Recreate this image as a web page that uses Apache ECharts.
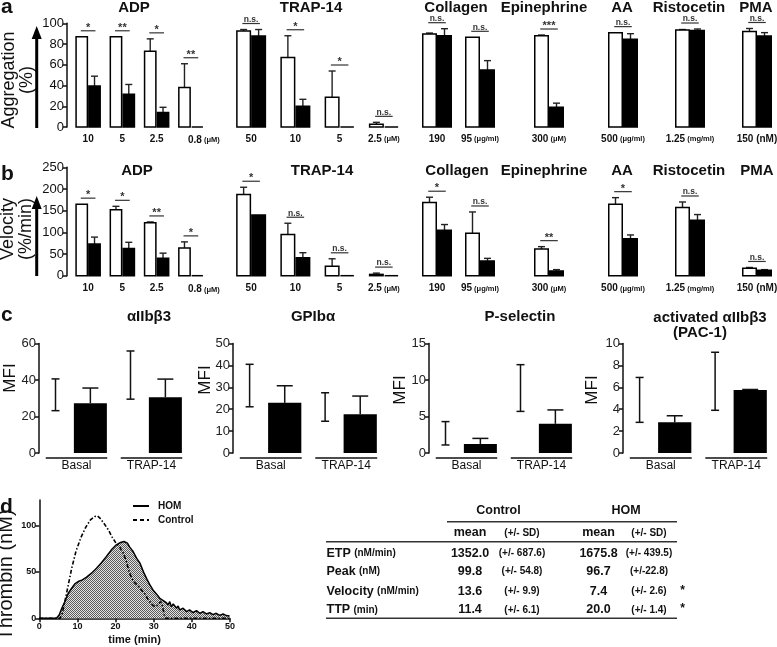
<!DOCTYPE html>
<html><head><meta charset="utf-8">
<script src="https://cdn.jsdelivr.net/npm/echarts@6/dist/echarts.min.js"></script>
<style>html,body{margin:0;padding:0;background:#fff}#c{width:777px;height:647px}</style>
</head><body><div id="c"></div>
<script>
// ---------------- DATA ----------------
// Panels a & b: agonist groups
const groupTitles = ['ADP', 'TRAP-14', 'Collagen', 'Epinephrine', 'AA', 'Ristocetin', 'PMA'];
const doses = [['10', '5', '2.5', '0.8'], ['50', '10', '5', '2.5'], ['190', '95'], ['300'], ['500'], ['1.25'], ['150']];
const doseUnits = ['(μM)', '(μM)', '(μg/ml)', '(μM)', '(μg/ml)', '(mg/ml)', '(nM)'];

// a: Aggregation (%)
const aggTicks = [0, 20, 40, 60, 80, 100];
const aggControl = [[87, 87, 73, 38], [92.5, 67, 28.6, 2.6], [89.7, 86.5], [88], [91], [93.5], [92]];
const aggControlSD = [[0, 0, 12, 23], [1.5, 21, 25.4, 1.9], [0.9, 0], [0.7], [0], [0.5], [3]];
const aggHom = [[39.5, 31.5, 14, 0], [87.7, 20, 0, 0], [88, 55], [19], [84.5], [93], [87.7]];
const aggHomSD = [[9.5, 9.5, 5, 0], [6.3, 6.7, 0, 0], [6.8, 9], [4], [5.5], [1.5], [3.3]];
const aggSig = [['*', '**', '*', '**'], ['n.s.', '*', '*', 'n.s.'], ['n.s.', 'n.s.'], ['***'], ['n.s.'], ['n.s.'], ['n.s.']];

// b: Velocity (%/min)
const velTicks = [0, 50, 100, 150, 200, 250];
const velControl = [[165, 152, 122, 64], [187.5, 95, 22, 3], [169, 98], [61.5], [165], [157], [17]];
const velControlSD = [[0, 8, 2, 14], [16.5, 26, 17, 3], [12, 49], [5.5], [15], [13], [2]];
const velHom = [[73, 63, 40, 0], [140, 41.5, 0, 0], [105, 34], [11], [85], [128], [12.5]];
const velHomSD = [[16, 14, 12, 0], [0, 11.5, 0, 0], [13, 6], [3], [9], [13], [1.5]];
const velSig = [['*', '*', '**', '*'], ['*', 'n.s.', 'n.s.', 'n.s.'], ['*', 'n.s.'], ['**'], ['*'], ['n.s.'], ['n.s.']];

// c: MFI
const mfiTitles = ['αIIbβ3', 'GPIbα', 'P-selectin', 'activated αIIbβ3', '(PAC-1)'];
const mfiCats = ['Basal', 'TRAP-14'];
const mfiTicks = [[0, 20, 40, 60], [0, 10, 20, 30, 40, 50], [0, 5, 10, 15], [0, 2, 4, 6, 8, 10]];
const mfiControl = [[31.9, 42.7], [30.8, 21], [2.7, 8.9], [4.85, 6.55]];
const mfiControlSD = [[8.7, 13.2], [9.7, 6.5], [1.6, 3.2], [2.05, 2.65]];
const mfiHom = [[27.3, 30.6], [22.9, 17.7], [1.24, 4.0], [2.8, 5.75]];
const mfiHomSD = [[8.3, 9.9], [7.8, 8.3], [0.76, 1.9], [0.6, 0.05]];

// d: thrombin generation
const thrombinSeries = ['HOM', 'Control'];
const thrombinXTicks = [0, 10, 20, 30, 40, 50];
const thrombinYTicks = [0, 50, 100];
const homTime = [0, 4.5, 5.2, 5.9, 6.7, 7.6, 8.5, 9.3, 10.2, 11.3, 12.4, 13.7, 15, 16.3, 17.6, 18.9, 20.2, 21.3, 22.2, 22.7, 23.1, 23.7, 24.6, 25.5, 26.4, 27.1, 27.4, 27.9, 28.3, 29, 29.8, 30.7, 31.6, 32.5, 33.3, 33.8, 34.2, 34.6, 35.1, 36, 36.4, 36.8, 37.7, 38.6, 39.4, 40.3, 41.2, 42.1, 42.9, 43.8, 44.7, 45.5, 46.4, 47.3, 48.2, 49, 49.9];
const homThrombin = [0, 0, 3.6, 10.8, 18, 27, 32.4, 37, 39.6, 41.4, 44.3, 48.6, 54, 60, 66.6, 73.8, 79.2, 81.7, 82.8, 83.9, 81, 76.7, 72, 64.8, 59.4, 52.2, 49.3, 47.9, 41.4, 36, 30.6, 26.3, 21.6, 19.1, 16.9, 14.4, 18, 12.6, 15.5, 10.8, 13.3, 9, 10.8, 7.2, 9, 6.1, 8.3, 5.4, 7.2, 4.7, 6.1, 4, 5.4, 3.2, 4.7, 2.9, 2.5];
const controlTime = [0, 5.4, 6, 6.7, 7.6, 8.5, 9.6, 10.9, 12.2, 13.4, 14.6, 15.2, 15.9, 16.9, 18.1, 19.1, 20.1, 21.1, 22, 22.7, 23.4, 24.2, 25, 25.9, 26.8, 27.7, 28.5, 29.4, 30.3, 31.2, 31.8, 32.3, 32.8, 33.2, 50];
const controlThrombin = [0, 0, 5.4, 18, 36, 54, 72, 87, 98.3, 106, 109.8, 110.5, 108, 102.6, 95.4, 87.5, 81, 76.7, 70.2, 63, 52.2, 43.2, 38.5, 34.9, 30.6, 26.3, 20.5, 15.5, 12.6, 14.4, 18, 12.6, 3.6, 0, 0];

// d: table
const tableRows = ['ETP', 'Peak', 'Velocity', 'TTP'];
const tableUnits = ['(nM/min)', '(nM)', '(nM/min)', '(min)'];
const controlMean = ['1352.0', '99.8', '13.6', '11.4'];
const controlSDText = ['(+/- 687.6)', '(+/- 54.8)', '(+/- 9.9)', '(+/- 6.1)'];
const homMean = ['1675.8', '96.7', '7.4', '20.0'];
const homSDText = ['(+/- 439.5)', '(+/-22.8)', '(+/- 2.6)', '(+/- 1.4)'];
const tableSig = ['', '', '*', '*'];

// ---------------- LAYOUT / STYLE ----------------
const FONT = '"Liberation Sans", Arial, sans-serif';
const INK = '#111';
const groupLeft = [71, 229, 415.5, 527, 601, 668, 735];
const groupWidth = [137, 177, 86, 44, 44, 44, 44];
const titleXa = [134, 311, 456, 544, 622, 689, 756];
const titleXb = [137, 322, 457, 544, 622, 689, 757];

const grids = [], xAxes = [], yAxes = [], series = [], graphics = [];

function txt(text, x, y, size, weight, align, vAlign, rot, extra) {
  graphics.push({
    type: 'text', x: x, y: y, rotation: rot || 0, silent: true,
    style: Object.assign({
      text: text, fontSize: size, fontWeight: weight || 'normal', fontFamily: FONT,
      fill: INK, align: align || 'center', verticalAlign: vAlign || 'middle'
    }, extra || {})
  });
}
function gline(x1, y1, x2, y2, w, color, dash) {
  const st = { stroke: color || '#222', lineWidth: w || 1.5 };
  if (dash) st.lineDash = dash;
  graphics.push({ type: 'line', silent: true, shape: { x1, y1, x2, y2 }, style: st });
}

function barShape(x, y, w, y0, fill) {
  if (y0 - y < 1) {
    return { type: 'line', shape: { x1: x, y1: y0, x2: x + w, y2: y0 }, style: { stroke: '#000', lineWidth: 1.5 } };
  }
  return { type: 'rect', shape: { x: x, y: y, width: w, height: y0 - y }, style: { fill: fill, stroke: '#000', lineWidth: 1.5 } };
}
function errUp(x, y1, y2, cap) {
  return [
    { type: 'line', shape: { x1: x, y1: y1, x2: x, y2: y2 }, style: { stroke: '#222', lineWidth: 1.4 } },
    { type: 'line', shape: { x1: x - cap, y1: y2, x2: x + cap, y2: y2 }, style: { stroke: '#222', lineWidth: 1.4 } }
  ];
}

function pairRenderer(sigList) {
  return function (params, api) {
    const i = api.value(0);
    const c = api.value(1), cs = api.value(2), h = api.value(3), hs = api.value(4);
    const p0 = api.coord([i, 0]);
    const cx = p0[0], y0 = p0[1];
    const band = api.size([1, 0])[0];
    const bw = Math.min(band * 0.33, 13.5), gap = 1.5;
    const yc = api.coord([i, c])[1], ycs = api.coord([i, c + cs])[1];
    const yh = api.coord([i, h])[1], yhs = api.coord([i, h + hs])[1];
    const wx = cx - gap / 2 - bw, bx = cx + gap / 2;
    const kids = [];
    if (cs > 0) kids.push.apply(kids, errUp(wx + bw / 2, yc, ycs, 3.5));
    if (hs > 0) kids.push.apply(kids, errUp(bx + bw / 2, yh, yhs, 3.5));
    kids.push(barShape(wx, yc, bw, y0, '#fff'));
    kids.push(barShape(bx, yh, bw, y0, '#000'));
    const top = Math.min(yc, ycs, yh, yhs);
    const ly = top - 6, half = bw * 0.65;
    kids.push({ type: 'line', shape: { x1: cx - half, y1: ly, x2: cx + half, y2: ly }, style: { stroke: '#333', lineWidth: 1.2 } });
    const s = sigList[params.dataIndex];
    const ns = s === 'n.s.';
    kids.push({
      type: 'text', x: cx, y: ns ? ly + 0.5 : ly - 3,
      style: { text: s, fontSize: ns ? 8.5 : 11, fontWeight: 'bold', fontFamily: FONT, fill: '#333', align: 'center', verticalAlign: ns ? 'bottom' : 'middle' }
    });
    return { type: 'group', children: kids };
  };
}

function addBarPanel(top, height, ticks, ctrl, ctrlSD, hom, homSD, sig, labelMargin) {
  for (let g = 0; g < groupTitles.length; g++) {
    const gi = grids.length;
    grids.push({ left: groupLeft[g], top: top, width: groupWidth[g], height: height, outerBoundsMode: 'none' });
    const last = doses[g].length - 1;
    const unit = doseUnits[g];
    const padFirst = g === 0;
    xAxes.push({
      gridIndex: gi, type: 'category', data: doses[g],
      axisLine: { show: false }, axisTick: { show: false }, splitLine: { show: false },
      axisLabel: {
        interval: 0, margin: labelMargin, color: INK,
        formatter: function (v, idx) {
          if (idx !== last) return '{n|' + v + '}';
          const uStyle = unit === '(nM)' ? 'u2' : 'u';
          return (padFirst ? '{sp|}' : '') + '{n|' + v + '}{' + uStyle + '| ' + unit + '}';
        },
        rich: {
          n: { fontSize: 10, fontWeight: 'bold', fontFamily: FONT, color: INK },
          u: { fontSize: 7.5, fontWeight: 'bold', fontFamily: FONT, color: INK },
          u2: { fontSize: 10, fontWeight: 'bold', fontFamily: FONT, color: INK },
          sp: { width: 26 }
        }
      }
    });
    yAxes.push({
      gridIndex: gi, type: 'value', min: ticks[0], max: ticks[ticks.length - 1], interval: ticks[1] - ticks[0],
      show: g === 0, offset: 4,
      axisLine: { show: true, lineStyle: { color: INK, width: 1.5 } },
      axisTick: { show: true, length: 4, lineStyle: { color: INK, width: 1.5 } },
      axisLabel: { fontSize: 13, color: INK, margin: 3, fontFamily: FONT },
      splitLine: { show: false }
    });
    series.push({
      type: 'custom', xAxisIndex: gi, yAxisIndex: gi, clip: false, silent: true,
      data: ctrl[g].map((v, i) => [i, v, ctrlSD[g][i], hom[g][i], homSD[g][i]]),
      encode: { x: 0, y: [1, 3] },
      renderItem: pairRenderer(sig[g])
    });
  }
}

addBarPanel(23.3, 103.7, aggTicks, aggControl, aggControlSD, aggHom, aggHomSD, aggSig, 7);
addBarPanel(167.3, 108.4, velTicks, velControl, velControlSD, velHom, velHomSD, velSig, 8);

// ---- panel c ----
const cLeft = [39, 233, 429, 623];
const cWidth = [150, 151, 150, 151];
function mfiRenderer(params, api) {
  const i = api.value(0);
  const c = api.value(1), cs = api.value(2), h = api.value(3), hs = api.value(4);
  const p0 = api.coord([i, 0]);
  const cx = p0[0], y0 = p0[1];
  const band = api.size([1, 0])[0];
  const kids = [];
  const ix = cx - band * 0.28;
  const yl = api.coord([i, c - cs])[1], yu = api.coord([i, c + cs])[1];
  const st = { stroke: '#111', lineWidth: 1.5 };
  kids.push({ type: 'line', shape: { x1: ix, y1: yl, x2: ix, y2: yu }, style: st });
  kids.push({ type: 'line', shape: { x1: ix - 4, y1: yl, x2: ix + 4, y2: yl }, style: st });
  kids.push({ type: 'line', shape: { x1: ix - 4, y1: yu, x2: ix + 4, y2: yu }, style: st });
  const bw = band * 0.44, bx = cx - band * 0.035;
  const yh = api.coord([i, h])[1], yhs = api.coord([i, h + hs])[1];
  kids.push({ type: 'line', shape: { x1: bx + bw / 2, y1: yh, x2: bx + bw / 2, y2: yhs }, style: st });
  kids.push({ type: 'line', shape: { x1: bx + bw / 2 - 8, y1: yhs, x2: bx + bw / 2 + 8, y2: yhs }, style: st });
  kids.push({ type: 'rect', shape: { x: bx, y: yh, width: bw, height: y0 - yh }, style: { fill: '#000' } });
  kids.push({ type: 'line', shape: { x1: cx - band * 0.41, y1: y0 + 5, x2: cx + band * 0.41, y2: y0 + 5 }, style: st });
  return { type: 'group', children: kids };
}
for (let k = 0; k < 4; k++) {
  const gi = grids.length;
  const t = mfiTicks[k];
  grids.push({ left: cLeft[k], top: 343.5, width: cWidth[k], height: 109.5, outerBoundsMode: 'none' });
  xAxes.push({
    gridIndex: gi, type: 'category', data: mfiCats,
    axisLine: { show: false }, axisTick: { show: false },
    axisLabel: { interval: 0, margin: 7, fontSize: 12, color: INK, fontFamily: FONT }
  });
  yAxes.push({
    gridIndex: gi, type: 'value', min: t[0], max: t[t.length - 1], interval: t[1] - t[0],
    axisLine: { show: true, lineStyle: { color: INK, width: 1.5 } },
    axisTick: { show: true, length: 4, lineStyle: { color: INK, width: 1.5 } },
    axisLabel: { fontSize: 13, color: '#222', margin: 3, fontFamily: FONT },
    splitLine: { show: false }
  });
  series.push({
    type: 'custom', xAxisIndex: gi, yAxisIndex: gi, clip: false, silent: true,
    data: mfiControl[k].map((v, i) => [i, v, mfiControlSD[k][i], mfiHom[k][i], mfiHomSD[k][i]]),
    encode: { x: 0, y: [1, 3] },
    renderItem: mfiRenderer
  });
}

// ---- panel d chart ----
const pc = document.createElement('canvas');
pc.width = 2; pc.height = 2;
const pctx = pc.getContext('2d');
pctx.fillStyle = '#e2e2e2'; pctx.fillRect(0, 0, 2, 2);
pctx.fillStyle = '#5a5a5a'; pctx.fillRect(0, 0, 1, 1); pctx.fillRect(1, 1, 1, 1);
const controlDash = [4, 2, 1.5, 2];
{
  const gi = grids.length;
  grids.push({ left: 39.3, top: 500, width: 190.7, height: 118.3, outerBoundsMode: 'none' });
  xAxes.push({
    gridIndex: gi, type: 'value', min: 0, max: 50, interval: 10,
    name: 'time (min)', nameLocation: 'middle', nameGap: 16,
    nameTextStyle: { fontSize: 11, fontWeight: 'bold', color: INK, fontFamily: FONT },
    axisLine: { show: true, onZero: false, lineStyle: { color: INK, width: 1.5 } },
    axisTick: { show: true, length: 4, lineStyle: { color: INK, width: 1.5 }, customValues: thrombinXTicks },
    axisLabel: { fontSize: 9, fontWeight: 'bold', color: INK, margin: 4, fontFamily: FONT, customValues: thrombinXTicks },
    splitLine: { show: false }
  });
  yAxes.push({
    gridIndex: gi, type: 'value', min: 0, max: 127.5,
    axisLine: { show: true, lineStyle: { color: INK, width: 1.5 } },
    axisTick: { show: true, length: 4, lineStyle: { color: INK, width: 1.5 }, customValues: thrombinYTicks },
    axisLabel: { fontSize: 9, fontWeight: 'bold', color: INK, margin: 3, fontFamily: FONT, customValues: thrombinYTicks },
    splitLine: { show: false }
  });
  series.push({
    type: 'line', name: thrombinSeries[0], xAxisIndex: gi, yAxisIndex: gi, symbol: 'none', silent: true,
    data: homTime.map((t, i) => [t, homThrombin[i]]),
    lineStyle: { color: '#000', width: 1.5 },
    itemStyle: { color: '#000' },
    areaStyle: { color: { image: pc, repeat: 'repeat' }, opacity: 1 },
    z: 2
  });
  series.push({
    type: 'line', name: thrombinSeries[1], xAxisIndex: gi, yAxisIndex: gi, symbol: 'none', silent: true,
    data: controlTime.map((t, i) => [t, controlThrombin[i]]),
    lineStyle: { color: '#000', width: 1.6, type: controlDash },
    itemStyle: { color: '#000' },
    z: 3
  });
}
// legend (drawn by hand to match line keys)
gline(133, 506, 149, 506, 2, '#000');
txt(thrombinSeries[0], 158, 506, 10, 'bold', 'left');
gline(133, 520, 149, 520, 2, '#000', [4, 3]);
txt(thrombinSeries[1], 158, 520, 10, 'bold', 'left');

// ---- texts ----
txt('a', 1, 7, 21, 'bold', 'left');
txt('b', 1, 174, 21, 'bold', 'left');
txt('c', 1, 315, 21, 'bold', 'left');
txt('d', 0, 507, 21, 'bold', 'left');
for (let g = 0; g < groupTitles.length; g++) {
  txt(groupTitles[g], titleXa[g], 8, 15, 'bold');
  txt(groupTitles[g], titleXb[g], 171, 15, 'bold');
}
txt('Aggregation\n(%)', 18, 80, 18, 'normal', 'center', 'middle', Math.PI / 2, { lineHeight: 18 });
txt('Velocity\n(%/min)', 17, 229, 18, 'normal', 'center', 'middle', Math.PI / 2, { lineHeight: 18 });
// arrows
gline(36.7, 128, 36.7, 36, 3, '#000');
graphics.push({ type: 'polygon', silent: true, shape: { points: [[31.7, 39], [41.7, 39], [36.7, 26]] }, style: { fill: '#000' } });
gline(36.7, 276, 36.7, 206, 3, '#000');
graphics.push({ type: 'polygon', silent: true, shape: { points: [[31.7, 209], [41.7, 209], [36.7, 196]] }, style: { fill: '#000' } });

// panel c titles
txt(mfiTitles[0], 149, 317, 15, 'bold');
txt(mfiTitles[1], 313, 317, 15, 'bold');
txt(mfiTitles[2], 520, 317, 15, 'bold');
txt(mfiTitles[3], 710, 318, 15, 'bold');
txt(mfiTitles[4], 700, 333, 15, 'bold');
const mfiX = [10, 205, 400, 592];
const mfiY = [378, 380, 390, 390];
for (let k = 0; k < 4; k++) txt('MFI', mfiX[k], mfiY[k], 17, 'normal', 'center', 'middle', Math.PI / 2);

// panel d axis name
txt('Thrombin (nM)', 6, 575, 20, 'normal', 'center', 'middle', Math.PI / 2);

// table
const colX = [470, 522, 598.5, 649];
const rowY = [553.3, 571.7, 591.7, 610];
txt('Control', 498.5, 511, 12.5, 'bold');
txt('HOM', 626, 511, 12.5, 'bold');
gline(447, 521.7, 677, 521.7, 1.5, '#333');
txt('mean', colX[0], 533, 12.5, 'bold');
txt('(+/- SD)', colX[1], 533, 10, 'bold');
txt('mean', colX[2], 533, 12.5, 'bold');
txt('(+/- SD)', colX[3], 533, 10, 'bold');
gline(326, 541.7, 677, 541.7, 1.5, '#333');
for (let r = 0; r < tableRows.length; r++) {
  graphics.push({
    type: 'text', x: 326.5, y: rowY[r], silent: true,
    style: {
      text: '{b|' + tableRows[r] + '} {s|' + tableUnits[r] + '}', align: 'left', verticalAlign: 'middle',
      rich: {
        b: { fontSize: 12.5, fontWeight: 'bold', fontFamily: FONT, fill: INK },
        s: { fontSize: 10, fontWeight: 'bold', fontFamily: FONT, fill: INK }
      }
    }
  });
  txt(controlMean[r], colX[0], rowY[r], 12.5, 'bold');
  txt(controlSDText[r], colX[1], rowY[r], 10, 'bold');
  txt(homMean[r], colX[2], rowY[r], 12.5, 'bold');
  txt(homSDText[r], colX[3], rowY[r], 10, 'bold');
  if (tableSig[r]) txt(tableSig[r], 682.7, rowY[r] - 1, 12, 'bold');
}
gline(326, 618.3, 677, 618.3, 1.5, '#333');

const chart = echarts.init(document.getElementById('c'), null, { renderer: 'canvas' });
chart.setOption({
  animation: false,
  backgroundColor: '#fff',
  grid: grids,
  xAxis: xAxes,
  yAxis: yAxes,
  series: series,
  graphic: graphics
});
</script>
</body></html>
